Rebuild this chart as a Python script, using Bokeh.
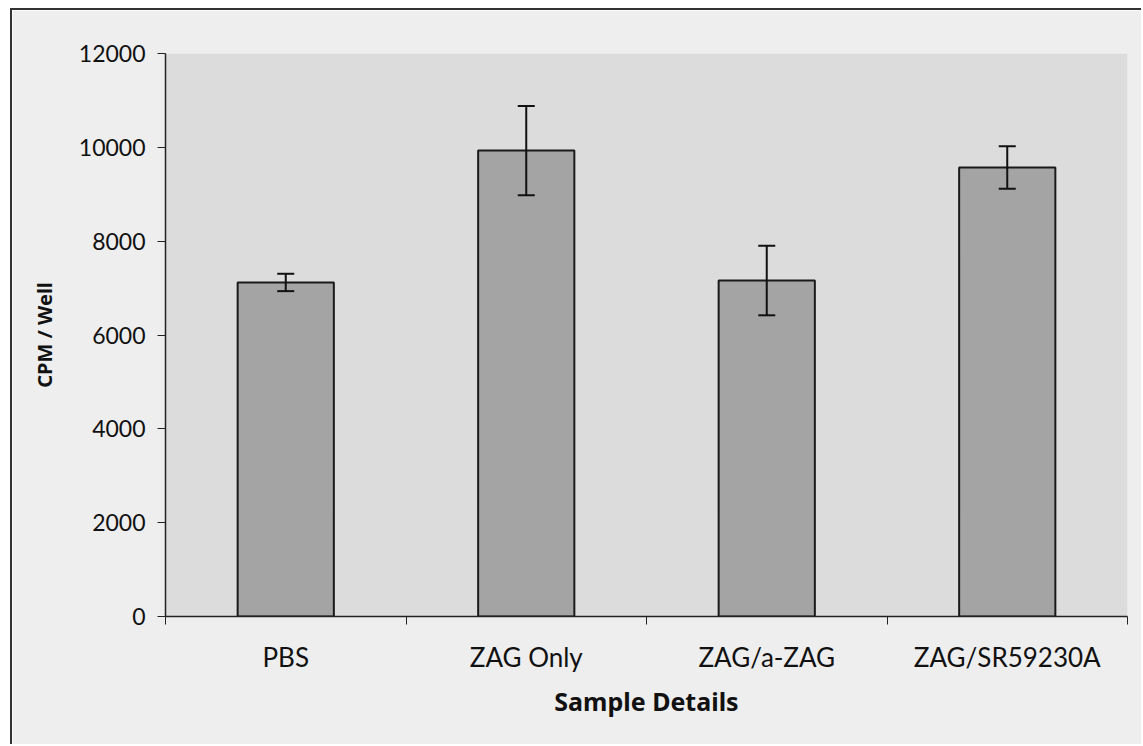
from bokeh.plotting import figure
from bokeh.models import ColumnDataSource, Whisker, FixedTicker, Range1d
from bokeh.embed import file_html
from bokeh.resources import INLINE

categories = ["PBS", "ZAG Only", "ZAG/a-ZAG", "ZAG/SR59230A"]
values = [7120, 9930, 7160, 9570]
errors = [185, 950, 740, 455]
y_ticks = [0, 2000, 4000, 6000, 8000, 10000, 12000]

xs = [i + 0.5 for i in range(len(categories))]
src = ColumnDataSource(dict(
    x=xs, top=values,
    upper=[v + e for v, e in zip(values, errors)],
    lower=[v - e for v, e in zip(values, errors)],
))

p = figure(width=1131, height=736, output_backend="svg", toolbar_location=None,
           x_range=Range1d(0, len(categories)), y_range=Range1d(0, 12000),
           min_border_left=153, min_border_right=16, min_border_top=43, min_border_bottom=130)
p.margin = (8, 0, 0, 10)
p.styles = {"border-left": "2px solid #333333", "border-top": "2px solid #333333"}

p.background_fill_color = "#dcdcdc"
p.border_fill_color = "#eeeeee"
p.outline_line_color = None
p.grid.visible = False

p.vbar(x="x", top="top", width=0.40, source=src, fill_color="#a4a4a4",
       line_color="#1a1a1a", line_width=2)

w = Whisker(base="x", upper="upper", lower="lower", source=src,
            line_color="#111111", line_width=2, level="annotation")
for head in (w.upper_head, w.lower_head):
    head.size = 17
    head.line_width = 2
    head.line_color = "#111111"
p.add_layout(w)

xa = p.xaxis[0]
xa.ticker = FixedTicker(ticks=xs, minor_ticks=list(range(len(categories) + 1)))
xa.major_label_overrides = {x: c for x, c in zip(xs, categories)}
xa.major_tick_out = 0
xa.major_tick_in = 0
xa.minor_tick_out = 8
xa.minor_tick_in = 0
xa.minor_tick_line_color = "#222222"
xa.axis_line_color = "#222222"
xa.axis_line_width = 1.5
xa.major_label_standoff = 16
xa.major_label_text_font = "Lato"
xa.major_label_text_font_size = "26px"
xa.major_label_text_color = "#111111"
xa.axis_label = "Sample Details"
xa.axis_label_text_font = "Noto Sans"
xa.axis_label_text_font_style = "bold"
xa.axis_label_text_font_size = "25px"
xa.axis_label_text_color = "#111111"
xa.axis_label_standoff = 8

ya = p.yaxis[0]
ya.ticker = FixedTicker(ticks=y_ticks, minor_ticks=[])
ya.major_tick_out = 8
ya.major_tick_in = 0
ya.major_tick_line_color = "#222222"
ya.axis_line_color = "#222222"
ya.axis_line_width = 1.5
ya.major_label_standoff = 12
ya.major_label_text_font = "Lato"
ya.major_label_text_font_size = "23px"
ya.major_label_text_color = "#111111"
ya.axis_label = "CPM / Well"
ya.axis_label_text_font = "Noto Sans"
ya.axis_label_text_font_style = "bold"
ya.axis_label_text_font_size = "20px"
ya.axis_label_text_color = "#111111"
ya.axis_label_standoff = 18

open("out.html", "w").write(file_html(p, INLINE))
